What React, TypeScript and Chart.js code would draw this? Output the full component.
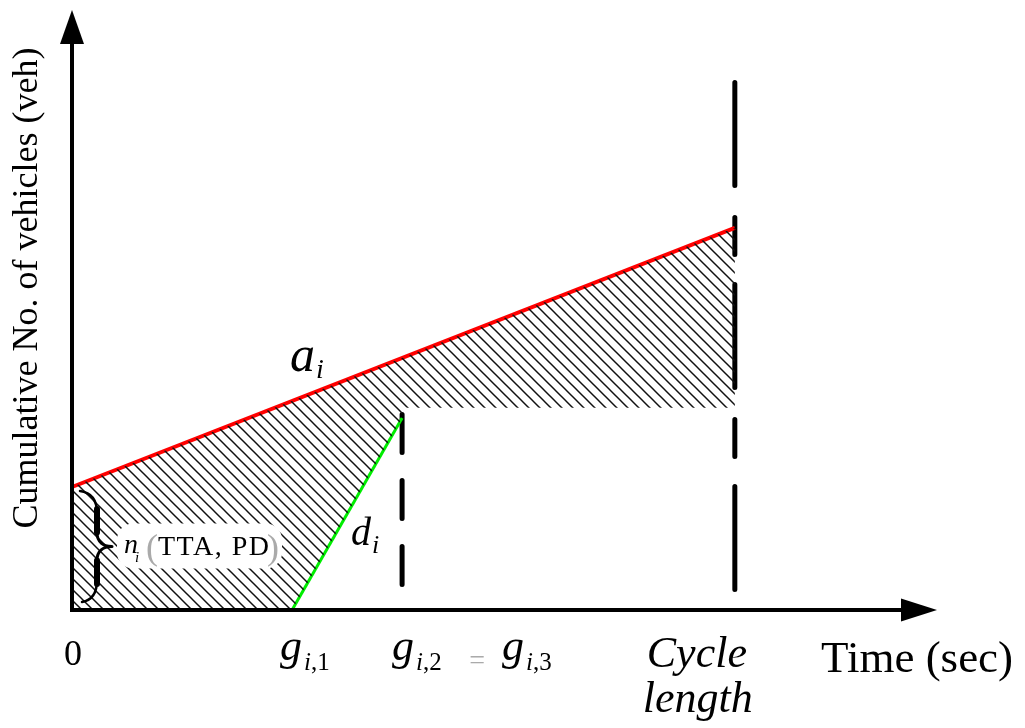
import { useEffect, useRef } from 'react';
import { Chart, registerables } from 'chart.js';

Chart.register(...registerables);

// Time axis (sec): green start g_i1, end of discharge g_i2 (= g_i3), cycle length
const gStart = 33.2;
const gEnd = 49.8;
const cycleLength = 100;
const axisMaxTime = 130.5;
const axisMaxVeh = 100;

// Cumulative arrivals a_i over the cycle
const arrivalTimes = [0, cycleLength];
const arrivalCounts = [20.5, 63.7];

// Cumulative departures d_i during the discharge
const departureTimes = [gStart, gEnd];
const departureCounts = [0, 32];

// Level of the residual queue boundary
const queueLevel = 33.7;

// Vertical extents of the dashed markers
const gEndMarker = [32.6, 3.7];
const cycleMarker = [87.9, 3.0];

const SERIF = '"Liberation Serif", "Times New Roman", serif';

function hatchPattern(): CanvasPattern | string {
  const p = 11;
  const c = document.createElement('canvas');
  c.width = p;
  c.height = p;
  const g = c.getContext('2d');
  if (!g) return '#999';
  g.strokeStyle = '#111';
  g.lineWidth = 1.5;
  for (const o of [-p, 0, p]) {
    g.beginPath();
    g.moveTo(o - 1, -1);
    g.lineTo(o + p + 1, p + 1);
    g.stroke();
  }
  return g.createPattern(c, 'repeat') || '#999';
}

function drawText(
  ctx: CanvasRenderingContext2D,
  s: string,
  x: number,
  y: number,
  font: string,
  color = '#000',
  align: CanvasTextAlign = 'left'
) {
  ctx.font = font;
  ctx.fillStyle = color;
  ctx.textAlign = align;
  ctx.textBaseline = 'alphabetic';
  ctx.fillText(s, x, y);
  return ctx.measureText(s).width;
}

const overlay = {
  id: 'overlay',
  afterDatasetsDraw(chart: any) {
    const ctx: CanvasRenderingContext2D = chart.ctx;
    const X = (v: number) => chart.scales.x.getPixelForValue(v);
    const Y = (v: number) => chart.scales.y.getPixelForValue(v);
    const x0 = X(0);
    const y0 = Y(0);
    ctx.save();

    // axes with arrow heads
    ctx.strokeStyle = '#000';
    ctx.fillStyle = '#000';
    ctx.lineWidth = 4;
    ctx.lineCap = 'butt';
    const xt = X(axisMaxTime);
    const yt = Y(axisMaxVeh);
    ctx.beginPath();
    ctx.moveTo(x0 - 2, y0);
    ctx.lineTo(xt - 30, y0);
    ctx.stroke();
    ctx.beginPath();
    ctx.moveTo(xt, y0);
    ctx.lineTo(xt - 36, y0 - 11.5);
    ctx.lineTo(xt - 36, y0 + 11.5);
    ctx.closePath();
    ctx.fill();
    ctx.beginPath();
    ctx.moveTo(x0, y0 + 2);
    ctx.lineTo(x0, yt + 30);
    ctx.stroke();
    ctx.beginPath();
    ctx.moveTo(x0, yt);
    ctx.lineTo(x0 - 12, yt + 34);
    ctx.lineTo(x0 + 12, yt + 34);
    ctx.closePath();
    ctx.fill();

    // brace marking the initial queue n_i
    const bTop = Y(arrivalCounts[0]) + 4;
    const bBot = y0 - 8;
    const bMid = (bTop + bBot) / 2;
    const bx = x0 + 8;
    ctx.lineCap = 'round';
    ctx.lineJoin = 'round';
    ctx.lineWidth = 2.5;
    ctx.beginPath();
    ctx.moveTo(bx, bTop);
    ctx.bezierCurveTo(bx + 14, bTop + 2, bx + 17, bTop + 12, bx + 17, bTop + 22);
    ctx.moveTo(bx + 17, bBot - 22);
    ctx.bezierCurveTo(bx + 17, bBot - 12, bx + 14, bBot - 2, bx + 2, bBot);
    ctx.stroke();
    ctx.lineWidth = 6;
    ctx.beginPath();
    ctx.moveTo(bx + 17, bTop + 18);
    ctx.lineTo(bx + 17, bMid - 14);
    ctx.moveTo(bx + 17, bMid + 14);
    ctx.lineTo(bx + 17, bBot - 18);
    ctx.stroke();
    ctx.lineWidth = 3;
    ctx.beginPath();
    ctx.moveTo(bx + 17, bMid - 14);
    ctx.bezierCurveTo(bx + 17, bMid - 4, bx + 24, bMid, bx + 32, bMid);
    ctx.bezierCurveTo(bx + 24, bMid, bx + 17, bMid + 4, bx + 17, bMid + 14);
    ctx.stroke();

    // n_i (TTA, PD) label on a white rounded box
    const lx = x0 + 45;
    const ly = bMid;
    ctx.fillStyle = '#fff';
    ctx.beginPath();
    (ctx as any).roundRect(lx, ly - 23, 165, 45, 16);
    ctx.fill();
    drawText(ctx, 'n', lx + 7, ly + 6, `italic 28px ${SERIF}`);
    drawText(ctx, 'i', lx + 18, ly + 15, `italic 15px ${SERIF}`);
    drawText(ctx, '(', lx + 29, ly + 12, `36px ${SERIF}`, '#aaa');
    (ctx as any).letterSpacing = '1.5px';
    drawText(ctx, 'TTA, PD', lx + 41, ly + 8, `28px ${SERIF}`);
    (ctx as any).letterSpacing = '0px';
    drawText(ctx, ')', lx + 150, ly + 12, `36px ${SERIF}`, '#aaa');

    // curve labels
    const aw = drawText(ctx, 'a', 290, 371, `italic 50px ${SERIF}`);
    drawText(ctx, 'i', 290 + aw + 1, 378, `italic 28px ${SERIF}`);
    const dw = drawText(ctx, 'd', 351, 545, `italic 40px ${SERIF}`);
    drawText(ctx, 'i', 351 + dw + 1, 553, `italic 26px ${SERIF}`);

    // time-axis labels
    drawText(ctx, '0', x0 + 1, 665, `36px ${SERIF}`, '#000', 'center');
    const gLabel = (left: number, num: string) => {
      const w = drawText(ctx, 'g', left, 660, `italic 44px ${SERIF}`);
      const iw = drawText(ctx, 'i', left + w + 2, 670, `italic 25px ${SERIF}`);
      drawText(ctx, ',' + num, left + w + 2 + iw, 670, `25px ${SERIF}`);
    };
    gLabel(X(gStart) - 12, '1');
    gLabel(X(gEnd) - 10, '2');
    drawText(ctx, '=', X(gEnd) + 75, 669, `28px ${SERIF}`, '#aaa', 'center');
    gLabel(X(gEnd) + 100, '3');
    drawText(ctx, 'Cycle', X(cycleLength) - 38, 667, `italic 44px ${SERIF}`, '#000', 'center');
    drawText(ctx, 'length', X(cycleLength) - 37, 712, `italic 44px ${SERIF}`, '#000', 'center');
    drawText(ctx, 'Time (sec)', 821, 672, `45px ${SERIF}`);

    // vehicle-axis title
    ctx.translate(28, 288);
    ctx.rotate(-Math.PI / 2);
    ctx.font = `36px ${SERIF}`;
    ctx.fillStyle = '#000';
    ctx.textAlign = 'center';
    ctx.textBaseline = 'middle';
    ctx.fillText('Cumulative No. of vehicles (veh)', 0, 0);
    ctx.restore();
  },
};

export default function App() {
  const ref = useRef<HTMLCanvasElement | null>(null);

  useEffect(() => {
    if (!ref.current) return;

    const hatchX = [0, arrivalTimes[0], arrivalTimes[1], cycleLength, gEnd, departureTimes[1], departureTimes[0]];
    const hatchY = [0, arrivalCounts[0], arrivalCounts[1], queueLevel, queueLevel, departureCounts[1], departureCounts[0]];
    const pts = (xs: number[], ys: number[]) => xs.map((x, i) => ({ x, y: ys[i] }));

    const chart = new Chart(ref.current, {
      type: 'scatter',
      data: {
        datasets: [
          {
            label: 'delay area',
            data: pts(hatchX, hatchY),
            showLine: true,
            borderWidth: 0,
            borderColor: 'rgba(0,0,0,0)',
            backgroundColor: hatchPattern() as any,
            fill: 'shape' as any,
            pointRadius: 0,
          },
          {
            label: 'a_i',
            data: pts(arrivalTimes, arrivalCounts),
            showLine: true,
            borderColor: '#ff0000',
            borderWidth: 4,
            pointRadius: 0,
            clip: false as any,
          },
          {
            label: 'd_i',
            data: pts(departureTimes, departureCounts),
            showLine: true,
            borderColor: '#00ee00',
            borderWidth: 3,
            pointRadius: 0,
            clip: false as any,
          },
          {
            label: 'g_i2',
            data: pts([gEnd, gEnd], gEndMarker),
            showLine: true,
            borderColor: '#000',
            borderWidth: 5,
            borderDash: [38, 28],
            borderCapStyle: 'round',
            pointRadius: 0,
          },
          {
            label: 'cycle',
            data: pts([cycleLength, cycleLength], cycleMarker),
            showLine: true,
            borderColor: '#000',
            borderWidth: 5,
            borderDash: [103, 32, 37, 30],
            borderCapStyle: 'round',
            pointRadius: 0,
          },
        ],
      },
      options: {
        responsive: false,
        animation: false,
        layout: { padding: { left: 72, right: 88, top: 10, bottom: 118 } },
        scales: {
          x: { type: 'linear', min: 0, max: axisMaxTime, display: false },
          y: { type: 'linear', min: 0, max: axisMaxVeh, display: false },
        },
        plugins: { legend: { display: false }, tooltip: { enabled: false } },
      },
      plugins: [overlay],
    });
    return () => chart.destroy();
  }, []);

  return (
    <div style={{ position: 'absolute', left: 0, top: 0, width: 1025, height: 728, background: '#fff' }}>
      <canvas ref={ref} width={1025} height={728} style={{ display: 'block' }} />
    </div>
  );
}
